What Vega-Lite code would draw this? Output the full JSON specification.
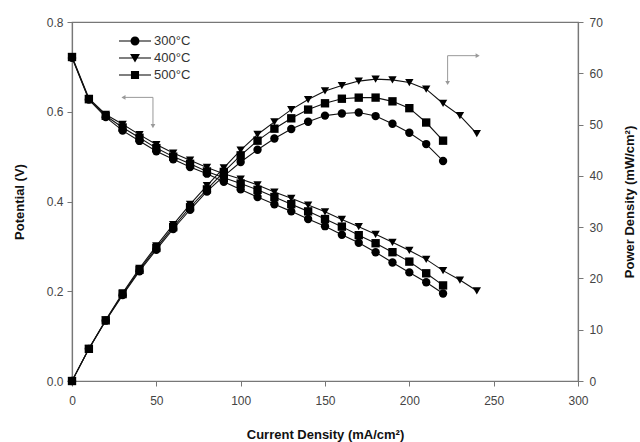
{
  "$schema": "https://vega.github.io/schema/vega-lite/v6.json",
  "width": 506,
  "height": 359,
  "autosize": {"type": "none"},
  "padding": {"left": 72, "top": 22, "right": 62, "bottom": 61},
  "config": {
    "font": "Liberation Sans",
    "view": {"stroke": "#777", "strokeWidth": 1.2},
    "axis": {
      "grid": false,
      "labelFontSize": 12,
      "labelColor": "#444",
      "labelFlush": false,
      "titleFontSize": 13,
      "titleFontWeight": "bold",
      "titleColor": "#111",
      "domainColor": "#777",
      "domainWidth": 1.2,
      "tickColor": "#777",
      "tickSize": 5
    },
    "legend": {"labelFontSize": 13, "labelColor": "#333"}
  },
  "datasets": {
    "curves": [
      {"I": 0, "T": "300°C", "V": 0.720, "P": 0},
      {"I": 10, "T": "300°C", "V": 0.627, "P": 6.27},
      {"I": 20, "T": "300°C", "V": 0.588, "P": 11.76},
      {"I": 30, "T": "300°C", "V": 0.558, "P": 16.74},
      {"I": 40, "T": "300°C", "V": 0.535, "P": 21.4},
      {"I": 50, "T": "300°C", "V": 0.512, "P": 25.6},
      {"I": 60, "T": "300°C", "V": 0.494, "P": 29.64},
      {"I": 70, "T": "300°C", "V": 0.477, "P": 33.39},
      {"I": 80, "T": "300°C", "V": 0.462, "P": 36.96},
      {"I": 90, "T": "300°C", "V": 0.444, "P": 39.96},
      {"I": 100, "T": "300°C", "V": 0.427, "P": 42.7},
      {"I": 110, "T": "300°C", "V": 0.410, "P": 45.1},
      {"I": 120, "T": "300°C", "V": 0.394, "P": 47.28},
      {"I": 130, "T": "300°C", "V": 0.378, "P": 49.14},
      {"I": 140, "T": "300°C", "V": 0.361, "P": 50.54},
      {"I": 150, "T": "300°C", "V": 0.345, "P": 51.75},
      {"I": 160, "T": "300°C", "V": 0.326, "P": 52.16},
      {"I": 170, "T": "300°C", "V": 0.308, "P": 52.36},
      {"I": 180, "T": "300°C", "V": 0.287, "P": 51.66},
      {"I": 190, "T": "300°C", "V": 0.264, "P": 50.16},
      {"I": 200, "T": "300°C", "V": 0.242, "P": 48.4},
      {"I": 210, "T": "300°C", "V": 0.220, "P": 46.2},
      {"I": 220, "T": "300°C", "V": 0.195, "P": 42.9},
      {"I": 0, "T": "400°C", "V": 0.723, "P": 0},
      {"I": 10, "T": "400°C", "V": 0.630, "P": 6.3},
      {"I": 20, "T": "400°C", "V": 0.594, "P": 11.88},
      {"I": 30, "T": "400°C", "V": 0.572, "P": 17.16},
      {"I": 40, "T": "400°C", "V": 0.549, "P": 21.96},
      {"I": 50, "T": "400°C", "V": 0.527, "P": 26.35},
      {"I": 60, "T": "400°C", "V": 0.508, "P": 30.48},
      {"I": 70, "T": "400°C", "V": 0.492, "P": 34.44},
      {"I": 80, "T": "400°C", "V": 0.476, "P": 38.08},
      {"I": 90, "T": "400°C", "V": 0.462, "P": 41.58},
      {"I": 100, "T": "400°C", "V": 0.450, "P": 45.0},
      {"I": 110, "T": "400°C", "V": 0.437, "P": 48.07},
      {"I": 120, "T": "400°C", "V": 0.421, "P": 50.52},
      {"I": 130, "T": "400°C", "V": 0.407, "P": 52.91},
      {"I": 140, "T": "400°C", "V": 0.392, "P": 54.88},
      {"I": 150, "T": "400°C", "V": 0.377, "P": 56.55},
      {"I": 160, "T": "400°C", "V": 0.360, "P": 57.6},
      {"I": 170, "T": "400°C", "V": 0.344, "P": 58.48},
      {"I": 180, "T": "400°C", "V": 0.327, "P": 58.86},
      {"I": 190, "T": "400°C", "V": 0.309, "P": 58.71},
      {"I": 200, "T": "400°C", "V": 0.291, "P": 58.2},
      {"I": 210, "T": "400°C", "V": 0.271, "P": 56.91},
      {"I": 220, "T": "400°C", "V": 0.246, "P": 54.12},
      {"I": 230, "T": "400°C", "V": 0.225, "P": 51.75},
      {"I": 240, "T": "400°C", "V": 0.201, "P": 48.24},
      {"I": 0, "T": "500°C", "V": 0.722, "P": 0},
      {"I": 10, "T": "500°C", "V": 0.628, "P": 6.28},
      {"I": 20, "T": "500°C", "V": 0.591, "P": 11.82},
      {"I": 30, "T": "500°C", "V": 0.565, "P": 16.95},
      {"I": 40, "T": "500°C", "V": 0.542, "P": 21.68},
      {"I": 50, "T": "500°C", "V": 0.519, "P": 25.95},
      {"I": 60, "T": "500°C", "V": 0.500, "P": 30.0},
      {"I": 70, "T": "500°C", "V": 0.484, "P": 33.88},
      {"I": 80, "T": "500°C", "V": 0.467, "P": 37.36},
      {"I": 90, "T": "500°C", "V": 0.453, "P": 40.77},
      {"I": 100, "T": "500°C", "V": 0.440, "P": 44.0},
      {"I": 110, "T": "500°C", "V": 0.426, "P": 46.86},
      {"I": 120, "T": "500°C", "V": 0.410, "P": 49.2},
      {"I": 130, "T": "500°C", "V": 0.394, "P": 51.22},
      {"I": 140, "T": "500°C", "V": 0.378, "P": 52.92},
      {"I": 150, "T": "500°C", "V": 0.361, "P": 54.15},
      {"I": 160, "T": "500°C", "V": 0.344, "P": 55.04},
      {"I": 170, "T": "500°C", "V": 0.325, "P": 55.25},
      {"I": 180, "T": "500°C", "V": 0.307, "P": 55.26},
      {"I": 190, "T": "500°C", "V": 0.287, "P": 54.53},
      {"I": 200, "T": "500°C", "V": 0.266, "P": 53.2},
      {"I": 210, "T": "500°C", "V": 0.240, "P": 50.4},
      {"I": 220, "T": "500°C", "V": 0.213, "P": 46.86}
    ],
    "arrowLines": [
      {"x": 30, "x2": 48, "y": 0.632, "y2": 0.632},
      {"x": 48, "x2": 48, "y": 0.632, "y2": 0.570},
      {"x": 222.7, "x2": 222.7, "y": 0.725, "y2": 0.666},
      {"x": 222.7, "x2": 240.5, "y": 0.725, "y2": 0.725}
    ],
    "arrowHeads": [
      {"x": 30.5, "y": 0.632, "dir": "left"},
      {"x": 48, "y": 0.568, "dir": "down"},
      {"x": 222.7, "y": 0.664, "dir": "down"},
      {"x": 240.5, "y": 0.725, "dir": "right"}
    ]
  },
  "encoding": {
    "x": {
      "field": "I",
      "type": "quantitative",
      "scale": {"domain": [0, 300], "nice": false},
      "axis": {"values": [0, 50, 100, 150, 200, 250, 300], "title": "Current Density (mA/cm²)", "titlePadding": 22, "labelPadding": 9}
    }
  },
  "layer": [
    {
      "layer": [
        {
          "data": {"name": "arrowLines"},
          "mark": {"type": "rule", "color": "#999", "strokeWidth": 1},
          "encoding": {
            "x": {"field": "x", "type": "quantitative"},
            "x2": {"field": "x2"},
            "y": {"field": "y", "type": "quantitative", "scale": {"domain": [0, 0.8], "nice": false}},
            "y2": {"field": "y2"}
          }
        },
        {
          "data": {"name": "arrowHeads"},
          "transform": [{"filter": "datum.dir === 'left'"}],
          "mark": {"type": "point", "filled": true, "color": "#999", "size": 22, "opacity": 1, "shape": "triangle-left"},
          "encoding": {
            "x": {"field": "x", "type": "quantitative"},
            "y": {"field": "y", "type": "quantitative"}
          }
        },
        {
          "data": {"name": "arrowHeads"},
          "transform": [{"filter": "datum.dir === 'down'"}],
          "mark": {"type": "point", "filled": true, "color": "#999", "size": 22, "opacity": 1, "shape": "triangle-down"},
          "encoding": {
            "x": {"field": "x", "type": "quantitative"},
            "y": {"field": "y", "type": "quantitative"}
          }
        },
        {
          "data": {"name": "arrowHeads"},
          "transform": [{"filter": "datum.dir === 'right'"}],
          "mark": {"type": "point", "filled": true, "color": "#999", "size": 22, "opacity": 1, "shape": "triangle-right"},
          "encoding": {
            "x": {"field": "x", "type": "quantitative"},
            "y": {"field": "y", "type": "quantitative"}
          }
        },
        {
          "data": {"name": "curves"},
          "mark": {"type": "line", "color": "#111", "strokeWidth": 1.1},
          "encoding": {
            "y": {"field": "V", "type": "quantitative"},
            "detail": {"field": "T"}
          }
        },
        {
          "data": {"name": "curves"},
          "mark": {"type": "point", "filled": true, "color": "#000", "size": 70, "opacity": 1},
          "encoding": {
            "y": {
              "field": "V",
              "type": "quantitative",
              "scale": {"domain": [0, 0.8], "nice": false},
              "axis": {"orient": "left", "values": [0, 0.2, 0.4, 0.6, 0.8], "format": ".1f", "title": "Potential (V)", "titlePadding": 20, "labelPadding": 4}
            },
            "shape": {
              "field": "T",
              "type": "nominal",
              "scale": {"domain": ["300°C", "400°C", "500°C"], "range": ["circle", "triangle-down", "square"]},
              "legend": null
            }
          }
        }
      ]
    },
    {
      "data": {"name": "curves"},
      "layer": [
        {
          "mark": {"type": "line", "color": "#111", "strokeWidth": 1.1},
          "encoding": {
            "y": {"field": "P", "type": "quantitative"},
            "detail": {"field": "T"}
          }
        },
        {
          "mark": {"type": "point", "filled": true, "color": "#000", "size": 70, "opacity": 1},
          "encoding": {
            "y": {
              "field": "P",
              "type": "quantitative",
              "scale": {"domain": [0, 70], "nice": false},
              "axis": {"orient": "right", "values": [0, 10, 20, 30, 40, 50, 60, 70], "title": "Power Density (mW/cm²)", "titleAngle": 270, "titlePadding": 34, "labelPadding": 6}
            },
            "shape": {
              "field": "T",
              "type": "nominal",
              "scale": {"domain": ["300°C", "400°C", "500°C"], "range": ["circle", "triangle-down", "square"]},
              "legend": null
            }
          }
        }
      ]
    },
    {
      "data": {"name": "curves"},
      "transform": [{"filter": "false"}],
      "mark": {"type": "point", "filled": true, "color": "#000", "opacity": 1},
      "encoding": {
        "shape": {
          "field": "T",
          "type": "nominal",
          "scale": {
            "domain": ["300°C", "400°C", "500°C"],
            "range": [
              "M-1.78,-0.06L1.78,-0.06L1.78,0.06L-1.78,0.06Z M0.5,0A0.5,0.5 0 1,1 -0.5,0A0.5,0.5 0 1,1 0.5,0Z",
              "M-1.78,-0.06L1.78,-0.06L1.78,0.06L-1.78,0.06Z M-0.55,-0.45L0.55,-0.45L0,0.5Z",
              "M-1.78,-0.06L1.78,-0.06L1.78,0.06L-1.78,0.06Z M-0.45,-0.45L0.45,-0.45L0.45,0.45L-0.45,0.45Z"
            ]
          },
          "legend": {
            "title": null,
            "orient": "none",
            "legendX": 54,
            "legendY": 10,
            "padding": 0,
            "symbolSize": 324,
            "symbolFillColor": "#000",
            "symbolStrokeWidth": 0,
            "symbolOpacity": 1,
            "labelOffset": 10,
            "rowPadding": 1
          }
        }
      }
    }
  ],
  "resolve": {"scale": {"y": "independent", "shape": "independent"}}
}
